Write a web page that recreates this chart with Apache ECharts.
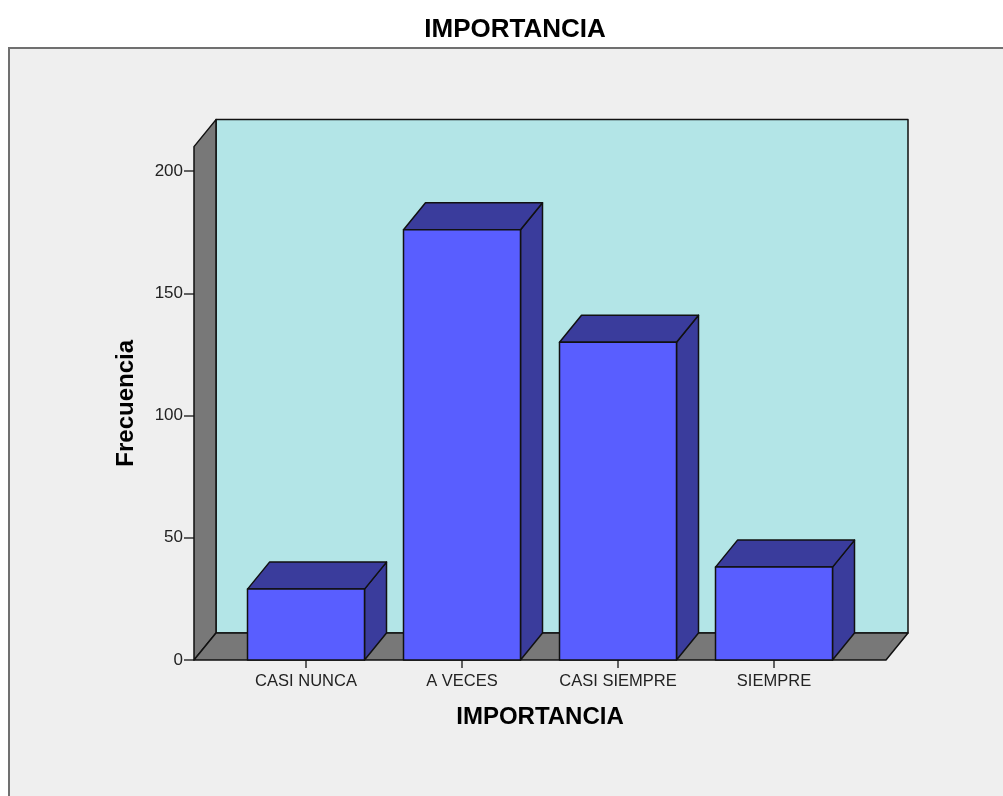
<!DOCTYPE html>
<html>
<head>
<meta charset="utf-8">
<script src="https://cdn.jsdelivr.net/npm/echarts@6/dist/echarts.min.js"></script>
<style>
  html, body { margin: 0; padding: 0; background: #ffffff; }
  #chart { width: 1003px; height: 796px; }
</style>
</head>
<body>
<div id="chart"></div>
<script>
// Frequency table for IMPORTANCIA
const categories = ['CASI NUNCA', 'A VECES', 'CASI SIEMPRE', 'SIEMPRE'];
const frequencies = [29, 176, 130, 38];
const yTicks = [0, 50, 100, 150, 200];

// 3D look: depth offset of walls and bars, and extra floor on each side
const DEPTH_X = 22;
const DEPTH_Y = 27;
const SIDE_PAD = 34;
const FONT = 'Liberation Sans, Arial, sans-serif';

const chart = echarts.init(document.getElementById('chart'));

function wallsRender(params, api) {
  const cs = params.coordSys;
  const left = cs.x - SIDE_PAD;
  const right = cs.x + cs.width + SIDE_PAD;
  const top = cs.y;
  const bottom = cs.y + cs.height;
  const stroke = { stroke: '#111111', lineWidth: 1.5, lineJoin: 'round' };
  return {
    type: 'group',
    children: [
      { type: 'rect',
        shape: { x: left + DEPTH_X, y: top - DEPTH_Y, width: right - left, height: bottom - top },
        style: Object.assign({ fill: '#b3e5e7' }, stroke) },
      { type: 'polygon',
        shape: { points: [[left, bottom], [left, top], [left + DEPTH_X, top - DEPTH_Y], [left + DEPTH_X, bottom - DEPTH_Y]] },
        style: Object.assign({ fill: '#787878' }, stroke) },
      { type: 'polygon',
        shape: { points: [[left, bottom], [left + DEPTH_X, bottom - DEPTH_Y], [right + DEPTH_X, bottom - DEPTH_Y], [right, bottom]] },
        style: Object.assign({ fill: '#787878' }, stroke) }
    ]
  };
}

function barRender(params, api) {
  const topPt = api.coord([api.value(0), api.value(1)]);
  const basePt = api.coord([api.value(0), 0]);
  const w = api.size([1, 0])[0] * 0.75;
  const l = topPt[0] - w / 2;
  const r = topPt[0] + w / 2;
  const t = topPt[1];
  const b = basePt[1];
  const stroke = { stroke: '#111111', lineWidth: 1.5, lineJoin: 'round' };
  return {
    type: 'group',
    children: [
      { type: 'polygon',
        shape: { points: [[r, t], [r + DEPTH_X, t - DEPTH_Y], [r + DEPTH_X, b - DEPTH_Y], [r, b]] },
        style: Object.assign({ fill: '#3a3c9c' }, stroke) },
      { type: 'polygon',
        shape: { points: [[l, t], [l + DEPTH_X, t - DEPTH_Y], [r + DEPTH_X, t - DEPTH_Y], [r, t]] },
        style: Object.assign({ fill: '#3a3c9c' }, stroke) },
      { type: 'rect',
        shape: { x: l, y: t, width: w, height: b - t },
        style: Object.assign({ fill: '#595eff' }, stroke) }
    ]
  };
}

chart.setOption({
  animation: false,
  backgroundColor: '#ffffff',
  graphic: [{
    type: 'rect', z: -10, silent: true,
    shape: { x: 9, y: 48, width: 1100, height: 900 },
    style: { fill: '#efefef', stroke: '#707070', lineWidth: 2 }
  }],
  title: {
    text: 'IMPORTANCIA',
    left: 510, top: 12, textAlign: 'center',
    textStyle: { fontFamily: FONT, fontSize: 26, fontWeight: 'bold', color: '#000000' }
  },
  grid: { left: 228, right: 151, top: 146.6, bottom: 136 },
  xAxis: {
    type: 'category',
    data: categories,
    name: 'IMPORTANCIA',
    nameLocation: 'middle',
    nameGap: 45,
    nameTextStyle: { fontFamily: FONT, fontSize: 24, fontWeight: 'bold', color: '#000000' },
    axisLine: { show: false },
    axisTick: { show: true, alignWithLabel: true, length: 8, lineStyle: { color: '#333333', width: 1.5 } },
    axisLabel: { margin: 13, fontFamily: FONT, fontSize: 16.5, color: '#222222' },
    splitLine: { show: false }
  },
  yAxis: {
    type: 'value',
    min: 0, max: 210,
    offset: SIDE_PAD,
    name: 'Frecuencia',
    nameLocation: 'middle',
    nameRotate: 90,
    nameGap: 56,
    nameTextStyle: { fontFamily: FONT, fontSize: 24, fontWeight: 'bold', color: '#000000' },
    axisLine: { show: false },
    axisTick: { show: true, length: 10, customValues: yTicks, lineStyle: { color: '#333333', width: 1.5 } },
    axisLabel: { margin: 11, customValues: yTicks, fontFamily: FONT, fontSize: 17, color: '#222222' },
    splitLine: { show: false }
  },
  series: [
    {
      type: 'custom',
      renderItem: wallsRender,
      data: [[0, 0]],
      clip: false,
      silent: true,
      z: 1
    },
    {
      type: 'custom',
      renderItem: barRender,
      data: categories.map((c, i) => [i, frequencies[i]]),
      clip: false,
      z: 2
    }
  ]
});
</script>
</body>
</html>
